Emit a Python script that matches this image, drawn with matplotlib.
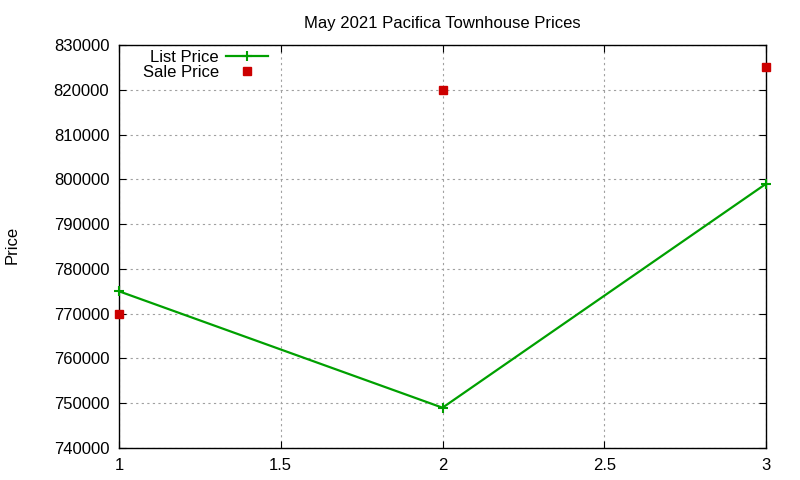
import matplotlib
matplotlib.use("Agg")
import matplotlib.pyplot as plt
from matplotlib.ticker import MultipleLocator, FormatStrFormatter

x_vals = [1, 2, 3]
list_price = [775000, 749000, 799000]
sale_price = [770000, 820000, 825000]

plt.rcParams['font.family'] = ['Liberation Sans', 'DejaVu Sans']
FS = 12

fig = plt.figure(figsize=(8, 4.8), dpi=100)
ax = fig.add_axes([119/800, 1-448/480, (766-119)/800, (448-45)/480])

ax.plot(x_vals, list_price, color='#00a000', lw=1.6, marker='+', ms=7, mew=1.5,
        label='List Price', zorder=3, clip_on=False)
ax.plot(x_vals, sale_price, color='#cc0000', lw=0, marker='s', ms=6,
        label='Sale Price', zorder=4, clip_on=False)

ax.set_xlim(1, 3)
ax.set_ylim(740000, 830000)
ax.xaxis.set_major_locator(MultipleLocator(0.5))
ax.yaxis.set_major_locator(MultipleLocator(10000))
ax.xaxis.set_major_formatter(plt.FuncFormatter(lambda v, p: ('%g' % v)))
ax.yaxis.set_major_formatter(FormatStrFormatter('%d'))
ax.tick_params(direction='in', top=True, right=True, length=5, width=0.8,
               labelsize=FS, colors='black', pad=7)
ax.grid(True, color='#a0a0a0', linestyle=(0, (2, 3)), linewidth=0.8)
for s in ax.spines.values():
    s.set_linewidth(1.0)

ax.set_title('May 2021 Pacifica Townhouse Prices', fontsize=FS, pad=12)
fig.text(12/800, 1-245/480, 'Price', rotation=90, va='center', ha='center', fontsize=FS)

leg = fig.legend(loc='upper right', bbox_to_anchor=(268/800, 1-50/480), frameon=False,
                 markerfirst=False, handlelength=2.5, handletextpad=0.45,
                 labelspacing=0.0, borderpad=0.0, borderaxespad=0.0, fontsize=FS)

fig.savefig('out.png', dpi=100)
